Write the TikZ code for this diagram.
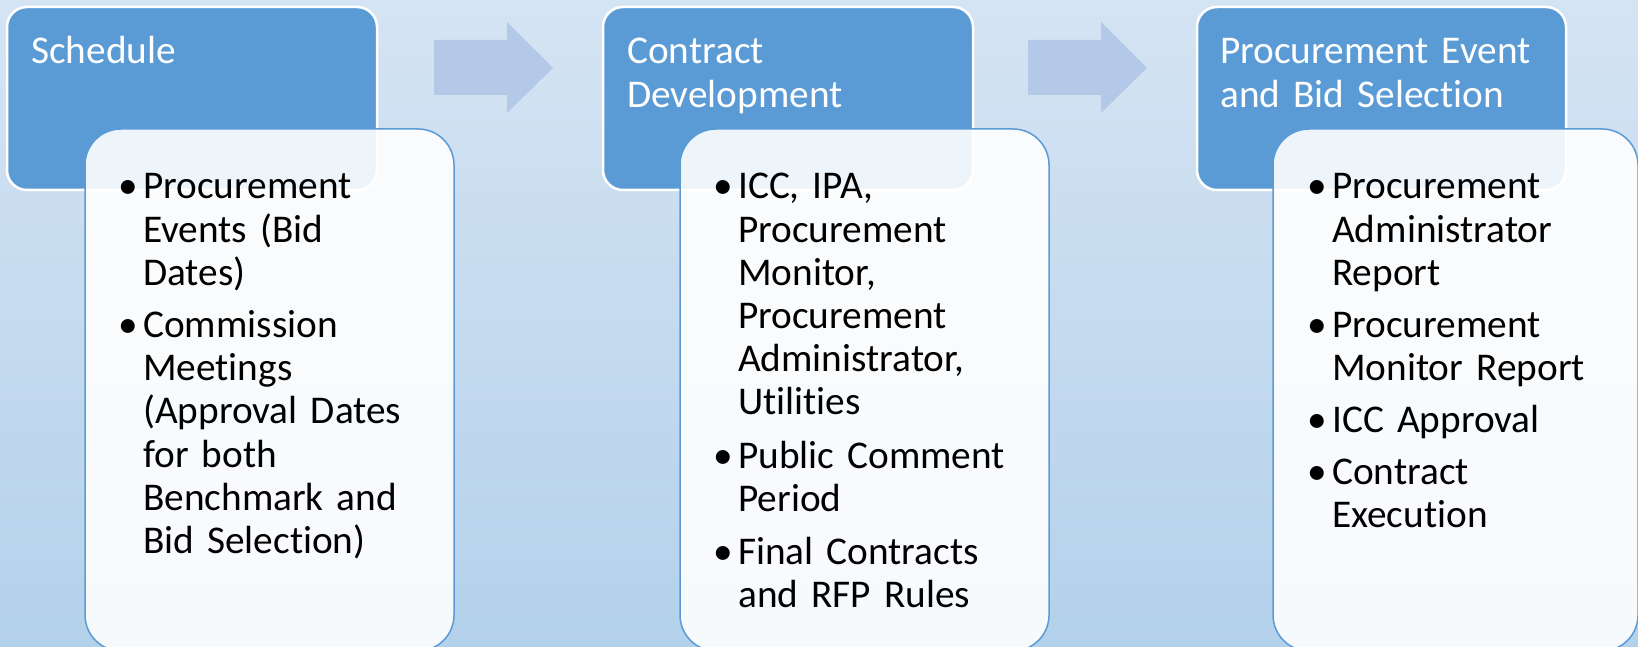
\documentclass[tikz,border=0pt]{standalone}
\usepackage{fontspec}
\setmainfont[Ligatures={NoCommon,NoContextual}]{Carlito}
\definecolor{hblue}{HTML}{5B9BD5}
\definecolor{bborder}{HTML}{5B9BD5}
\definecolor{bgtop}{HTML}{D5E4F3}
\definecolor{bgbot}{HTML}{B4D1EB}
\definecolor{arrowc}{HTML}{B4C9E7}
\newcommand{\mybul}{\leavevmode\llap{\textbullet\hspace{5pt}}}
\begin{document}
\begin{tikzpicture}[x=1pt,y=-1pt,
  headbox/.style={draw=white, line width=2.5pt, fill=hblue, rounded corners=20pt,
    anchor=north west, minimum width=370pt, minimum height=183pt, inner sep=0pt, outer sep=0pt},
  bodybox/.style={draw=bborder, line width=1.5pt, fill=white, fill opacity=0.9,
    rounded corners=36pt, anchor=north west, minimum width=369pt, minimum height=522pt,
    inner sep=0pt, outer sep=0pt},
  headtext/.style={anchor=base west, inner sep=0pt, text=white,
    font=\fontsize{39.3}{44}\selectfont, align=left, text width=345pt},
  bodytext/.style={anchor=base west, inner sep=0pt, text=black,
    font=\fontsize{39.3}{43.2}\selectfont, align=left, text width=300pt},
  blockarrow/.style={fill=arrowc}]
\useasboundingbox (0,0) rectangle (1638,647);
\clip (0,0) rectangle (1638,647);
\shade[top color=bgtop, bottom color=bgbot] (0,0) rectangle (1638,647);

% arrows
\coordinate (a1) at (434,68);
\coordinate (a2) at (1028,68);
\foreach \a in {a1,a2}{
  \fill[blockarrow] ([shift={(0,-28)}]\a) -- ++(73,0) -- ++(0,-18) -- ++(46,46)
    -- ++(-46,45) -- ++(0,-18) -- ++(-73,0) -- cycle;
}

% header boxes
\node[headbox] (h1) at (7,7) {};
\node[headbox] (h2) at (603,7) {};
\node[headbox, minimum width=369pt] (h3) at (1197,7) {};

\node[headtext] (t1) at (31,64) {Schedule};
\node[headtext] (t2) at (627,64) {Contract\\Development};
\node[headtext] (t3) at (1220,64) {Procurement Event\\and Bid Selection};

% body boxes
\node[bodybox] (b1) at (85,129) {};
\node[bodybox] (b2) at (680,129) {};
\node[bodybox, minimum width=365pt] (b3) at (1273,129) {};

\node[bodytext] (c1) at (143,199) {\mybul Procurement\\Events (Bid\\Dates)\\[9pt]\mybul Commission\\Meetings\\(Approval Dates\\for both\\Benchmark and\\Bid Selection)};
\node[bodytext] (c2) at (738,199) {\mybul ICC, IPA,\\Procurement\\Monitor,\\Procurement\\Administrator,\\Utilities\\[10pt]\mybul Public Comment\\Period\\[10pt]\mybul Final Contracts\\and RFP Rules};
\node[bodytext] (c3) at (1332,199) {\mybul Procurement\\Administrator\\Report\\[9pt]\mybul Procurement\\Monitor Report\\[8pt]\mybul ICC Approval\\[9pt]\mybul Contract\\Execution};
\end{tikzpicture}
\end{document}
